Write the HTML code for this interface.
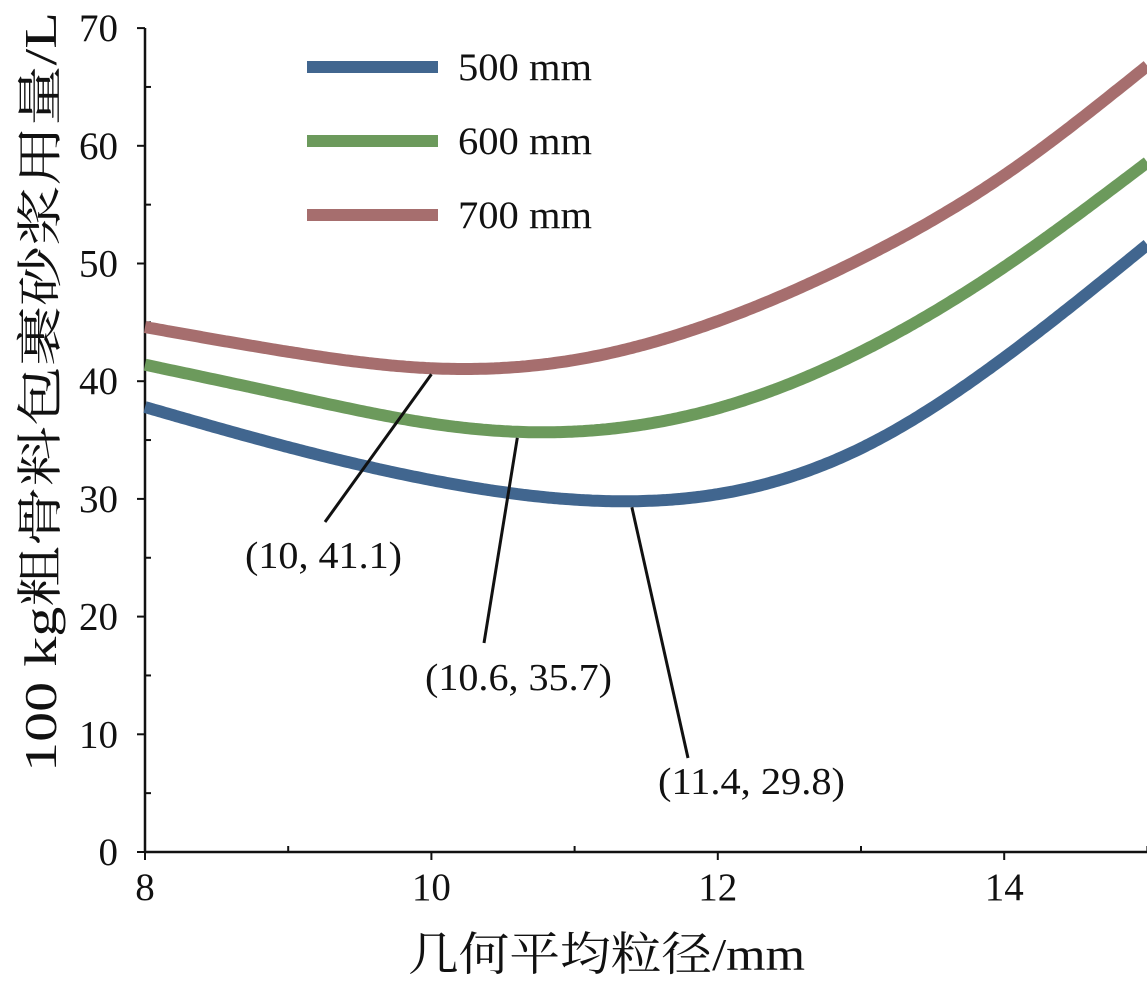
<!DOCTYPE html>
<html><head><meta charset="utf-8"><style>
body{margin:0;background:#fff}
svg{display:block}
text{font-family:"Liberation Serif","Noto Serif CJK SC",serif;fill:#111}
</style></head><body>
<svg id="chart" width="1147" height="989">
<g id="axes"></g>
<g id="series"></g>
<g id="legend"></g>
<g id="annot"></g>
</svg>
<script>
const seriesNames=["500 mm","600 mm","700 mm"];
const xs500=[8,9,10,11.4,12,13,14,15];
const ys500=[37.8,34.4,31.6,29.8,30.4,34.3,42,51.6];
const xs600=[8,9,10,10.6,12,13,14,15];
const ys600=[41.4,38.8,36.4,35.7,37.7,42.5,49.7,58.6];
const xs700=[8,9,10,11,12,13,14,15];
const ys700=[44.6,42.5,41.1,41.8,45.1,50.4,57.5,66.8];
const xTicks=[8,10,12,14];
const yTicks=[0,10,20,30,40,50,60,70];
const annX=[10,10.6,11.4];
const annY=[41.1,35.7,29.8];
const annLabels=["(10, 41.1)","(10.6, 35.7)","(11.4, 29.8)"];
const NS="http://www.w3.org/2000/svg";
const X=v=>145+(v-8)*143.2;
const Y=v=>852-v*11.77;
function mk(tag,attrs,parent){const e=document.createElementNS(NS,tag);for(const k in attrs)e.setAttribute(k,attrs[k]);parent.appendChild(e);return e;}
const axes=document.getElementById('axes');
let a=mk('line',{x1:145,y1:28,x2:145,y2:852,stroke:'#111','stroke-width':2.5},axes);


a=mk('line',{x1:144,y1:852,x2:1147,y2:852,stroke:'#111','stroke-width':2.5},axes);


for(let v=0;v<=70;v+=5){mk('line',{x1:145,y1:Y(v),x2:v%10?151:137,y2:Y(v),stroke:'#111','stroke-width':2},axes);}
for(let v=8;v<=15;v++){mk('line',{x1:X(v),y1:852,x2:X(v),y2:v%2?846:860,stroke:'#111','stroke-width':2},axes);}
yTicks.forEach(v=>{const t=mk('text',{x:118,y:Y(v)+13,'text-anchor':'end','font-size':39},axes);t.textContent=v;

});
xTicks.forEach(v=>{const t=mk('text',{x:X(v),y:900,'text-anchor':'middle','font-size':39},axes);t.textContent=v;

});
let t=mk('text',{x:408,y:970,'font-size':46,textLength:397,lengthAdjust:'spacingAndGlyphs'},axes);t.textContent='几何平均粒径/mm';


t=mk('text',{x:0,y:0,'font-size':46,textLength:760,lengthAdjust:'spacingAndGlyphs',transform:'translate(56,772) rotate(-90)'},axes);t.textContent='100 kg粗骨料包裹砂浆用量/L';


function spline(xs,ys){const n=xs.length,h=[],al=[],l=[1],mu=[0],z=[0],c=new Array(n).fill(0),b=[],d=[];
for(let i=0;i<n-1;i++)h.push(xs[i+1]-xs[i]);
for(let i=1;i<n-1;i++)al[i]=3/h[i]*(ys[i+1]-ys[i])-3/h[i-1]*(ys[i]-ys[i-1]);
for(let i=1;i<n-1;i++){l[i]=2*(xs[i+1]-xs[i-1])-h[i-1]*mu[i-1];mu[i]=h[i]/l[i];z[i]=(al[i]-h[i-1]*z[i-1])/l[i];}
for(let j=n-2;j>=0;j--){c[j]=(j>0?z[j]-mu[j]*c[j+1]:0);b[j]=(ys[j+1]-ys[j])/h[j]-h[j]*(c[j+1]+2*c[j])/3;d[j]=(c[j+1]-c[j])/(3*h[j]);}
c[0]=0;for(let j=0;j<n-1;j++){b[j]=(ys[j+1]-ys[j])/h[j]-h[j]*(c[j+1]+2*c[j])/3;d[j]=(c[j+1]-c[j])/(3*h[j]);}
let pts=[];for(let x=xs[0];x<=xs[n-1]+1e-9;x+=0.02){let j=0;while(j<n-2&&x>xs[j+1])j++;const dx=x-xs[j];pts.push([X(x),Y(ys[j]+b[j]*dx+c[j]*dx*dx+d[j]*dx*dx*dx)]);}
return 'M'+pts.map(p=>p[0].toFixed(1)+','+p[1].toFixed(1)).join(' L');}
const colors=['#41668f','#6c9a5c','#a66e6e'];
const data=[[xs500,ys500],[xs600,ys600],[xs700,ys700]];
const sg=document.getElementById('series');
data.forEach((d,i)=>{const p=mk('path',{d:spline(d[0],d[1]),fill:'none',stroke:colors[i],'stroke-width':12},sg);

});
const lg=document.getElementById('legend');
seriesNames.forEach((n,i)=>{const y=67+i*74;
const l=mk('line',{x1:307,y1:y,x2:438,y2:y,stroke:colors[i],'stroke-width':12},lg);


const tt=mk('text',{x:458,y:y+13,'font-size':39,textLength:134,lengthAdjust:'spacingAndGlyphs'},lg);tt.textContent=n;

});
const ag=document.getElementById('annot');
const ends=[[325,522,245,568,157],[484,643,425,690,187],[688,758,658,794,187]];
annX.forEach((x,i)=>{const e=ends[i];
const l=mk('line',{x1:X(x),y1:Y(annY[i])+6,x2:e[0],y2:e[1],stroke:'#111','stroke-width':3},ag);


const tt=mk('text',{x:e[2],y:e[3],'font-size':38,textLength:e[4],lengthAdjust:'spacingAndGlyphs'},ag);tt.textContent=annLabels[i];

});
</script>
</body></html>
